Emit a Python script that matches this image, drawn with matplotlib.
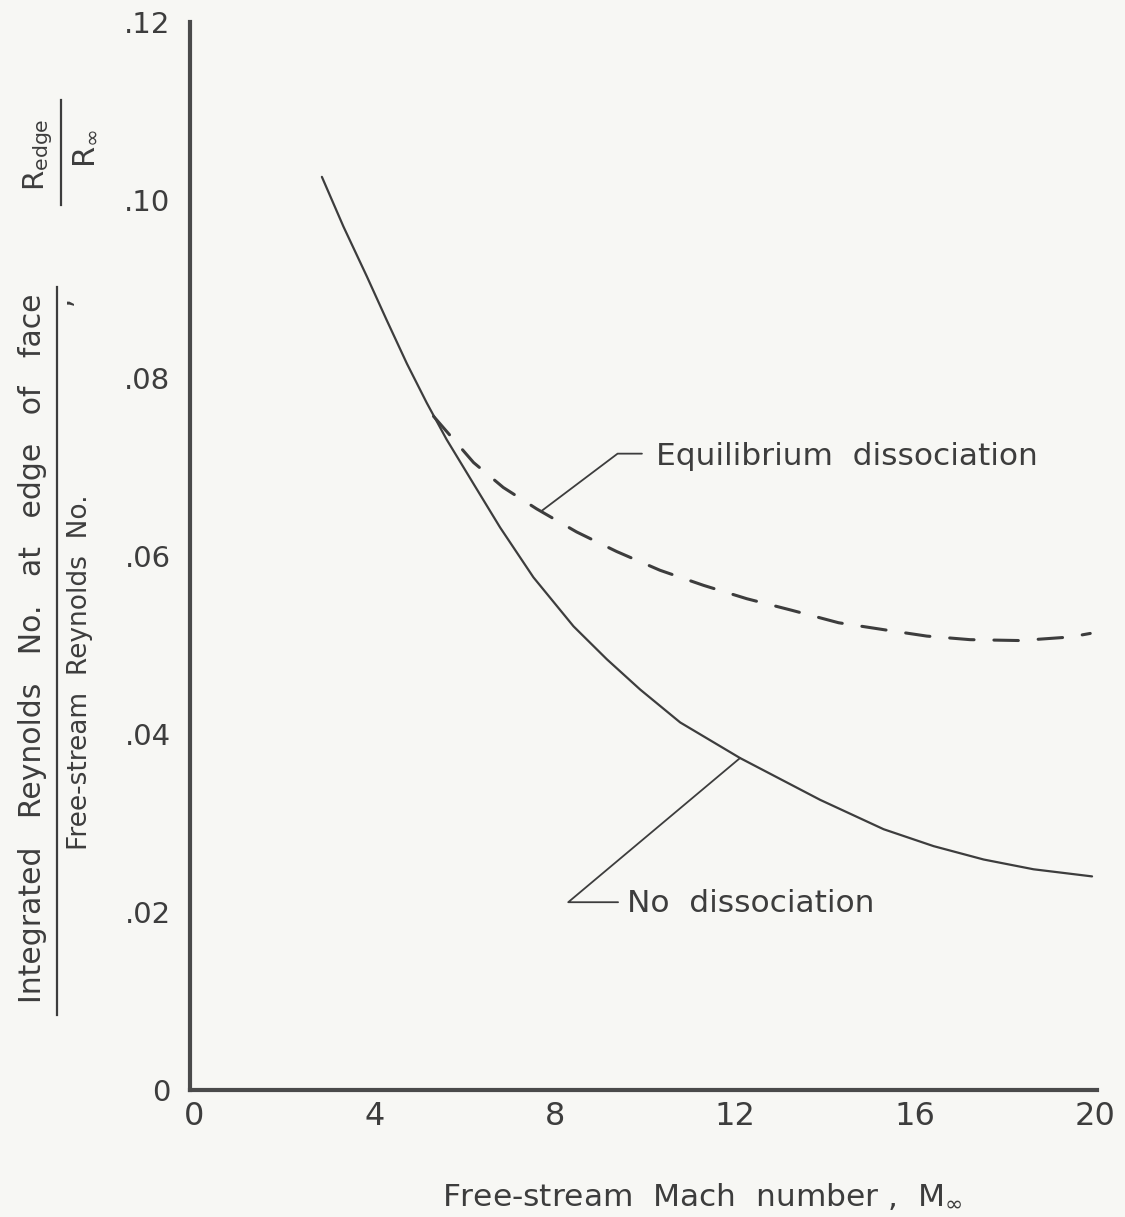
import numpy as np
import matplotlib.pyplot as plt
from matplotlib.lines import Line2D

# values
mach_none = [2.83, 3.31, 3.83, 4.27, 4.72, 5.16, 5.60, 6.20, 6.79, 7.53, 8.42,
             9.16, 9.90, 10.79, 12.12, 13.9, 15.31, 16.42, 17.53, 18.64, 19.94]
ratio_none = [0.1026, 0.0970, 0.0914, 0.0865, 0.0816, 0.0772, 0.0731, 0.0681,
              0.0632, 0.0576, 0.0521, 0.0484, 0.0450, 0.0413, 0.0373, 0.0326,
              0.0293, 0.0274, 0.0259, 0.0248, 0.0240]

mach_equil = [5.31, 6.2, 6.86, 7.6, 8.49, 9.38, 10.34, 11.31, 12.27, 13.27,
              14.31, 15.34, 16.27, 17.23, 18.34, 19.46, 19.9]
ratio_equil = [0.0757, 0.0705, 0.0677, 0.0653, 0.0627, 0.0605, 0.0584, 0.0567,
               0.0552, 0.0539, 0.0525, 0.0517, 0.0510, 0.0506, 0.0505, 0.0509,
               0.0513]

x_ticks = [0, 4, 8, 12, 16, 20]
y_ticks = [0, 0.02, 0.04, 0.06, 0.08, 0.10, 0.12]
y_tick_labels = ['0', '.02', '.04', '.06', '.08', '.10', '.12']

ink = '#3d3d3d'
paper = '#f7f7f4'

plt.rcParams['font.family'] = 'DejaVu Sans'
plt.rcParams['text.color'] = ink

W, H = 1125, 1217
fig = plt.figure(figsize=(W / 100, H / 100), dpi=100, facecolor=paper)
ax = fig.add_axes([190 / W, 1 - 1090 / H, (1097 - 190) / W, (1090 - 22) / H])
ax.set_facecolor(paper)

ax.plot(mach_none, ratio_none, color=ink, lw=1.6, solid_capstyle='round',
        solid_joinstyle='round')
ax.plot(mach_equil, ratio_equil, color=ink, lw=2.2, ls=(0, (8, 6.5)),
        dash_capstyle='round')

ax.set_xlim(-0.1, 20.05)
ax.set_ylim(0, 0.12)
ax.set_xticks(x_ticks)
ax.set_yticks(y_ticks)
ax.set_yticklabels(y_tick_labels)
ax.tick_params(length=0, colors=ink)
ax.tick_params(axis='x', labelsize=23, pad=8)
ax.tick_params(axis='y', labelsize=21, pad=14)
for s in ['top', 'right']:
    ax.spines[s].set_visible(False)
for s in ['left', 'bottom']:
    ax.spines[s].set_linewidth(3)
    ax.spines[s].set_color('#4a4a4a')

# leader lines + labels
ax.annotate('', xy=(7.72, 0.0651), xytext=(9.94, 0.0715),
            arrowprops=dict(arrowstyle='-', color=ink, lw=1.3, shrinkA=0, shrinkB=0,
                            connectionstyle='angle,angleA=0,angleB=37,rad=0'))
ax.text(10.26, 0.0702, 'Equilibrium  dissociation', fontsize=22.5, va='baseline')

ax.annotate('', xy=(12.12, 0.0373), xytext=(9.41, 0.0211),
            arrowprops=dict(arrowstyle='-', color=ink, lw=1.3, shrinkA=0, shrinkB=0,
                            connectionstyle='angle,angleA=0,angleB=40,rad=0'))
ax.text(9.61, 0.0200, 'No  dissociation', fontsize=22.5, va='baseline')

# x label
fig.text(702 / W, 1 - 1196 / H, r'Free-stream  Mach  number ,  M$_{\infty}$',
         fontsize=22.5, ha='center', va='center')

# y label: stacked fraction written as text
fig.text(33 / W, 1 - 648 / H, 'Integrated   Reynolds   No.   at   edge   of   face',
         fontsize=21.5, rotation=90, ha='center', va='center')
fig.text(80 / W, 1 - 672 / H, 'Free-stream  Reynolds  No.',
         fontsize=19, rotation=90, ha='center', va='center')
fig.add_artist(Line2D([57 / W, 57 / W], [1 - 1015 / H, 1 - 287 / H],
                      color=ink, lw=1.6, transform=fig.transFigure))
fig.text(62 / W, 1 - 300 / H, ',', fontsize=21, rotation=90,
         ha='center', va='center')

fig.text(38 / W, 1 - 155 / H, r'R$_{\mathregular{edge}}$', fontsize=21, rotation=90,
         ha='center', va='center')
fig.text(84 / W, 1 - 148 / H, r'R$_{\infty}$', fontsize=22, rotation=90,
         ha='center', va='center')
fig.add_artist(Line2D([61 / W, 61 / W], [1 - 205 / H, 1 - 100 / H],
                      color=ink, lw=1.6, transform=fig.transFigure))

fig.savefig('out.png', dpi=100, facecolor=paper)
